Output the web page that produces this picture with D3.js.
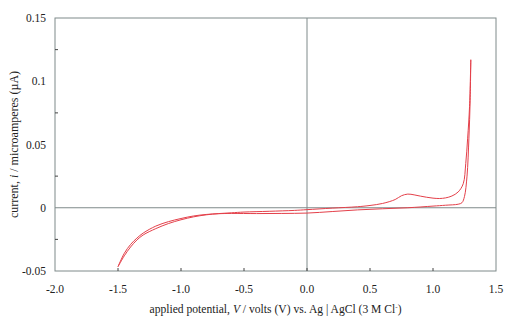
<html>
<head>
  <script src="https://d3js.org/d3.v7.min.js"></script>
  <style>
    body { margin: 0; background: #fff; }
    text { font-family: "Liberation Serif", "Times New Roman", serif; fill: #222; }
  </style>
</head>
<body>
<script>
  // forward scan (-1.5 -> 1.3 V), potential / current (uA)
  var fwdV = [-1.5, -1.45, -1.4, -1.35, -1.3, -1.2, -1.1, -1.0, -0.9, -0.8, -0.7, -0.6, -0.5, -0.3, -0.1, 0.0,
              0.2, 0.4, 0.5, 0.6, 0.7, 0.75, 0.8, 0.85, 0.9, 0.95, 1.0, 1.05, 1.1, 1.15, 1.2, 1.24, 1.26, 1.275, 1.29, 1.3];
  var fwdI = [-0.0466, -0.038, -0.031, -0.0255, -0.0215, -0.0165, -0.0125, -0.0095, -0.0072, -0.0056, -0.0046, -0.0040, -0.0034, -0.0028, -0.0021, -0.0015,
              -0.0003, 0.0008, 0.0018, 0.0034, 0.0065, 0.0095, 0.0108, 0.0102, 0.0092, 0.0083, 0.0076, 0.0073, 0.0078, 0.0093, 0.0125, 0.019, 0.035, 0.055, 0.08, 0.117];
  // reverse scan (1.3 -> -1.5 V)
  var revV = [1.3, 1.295, 1.285, 1.27, 1.25, 1.23, 1.2, 1.1, 1.0, 0.8, 0.6, 0.4, 0.2, 0.0, -0.2, -0.4, -0.6, -0.7,
              -0.8, -0.9, -1.0, -1.1, -1.2, -1.3, -1.35, -1.4, -1.45, -1.5];
  var revI = [0.117, 0.085, 0.055, 0.025, 0.009, 0.0040, 0.0028, 0.0020, 0.0013, 0.0000, -0.0008, -0.0017, -0.0030, -0.0042, -0.0045, -0.0046, -0.0045, -0.0047,
              -0.0053, -0.0065, -0.0085, -0.0110, -0.0145, -0.0200, -0.0240, -0.0290, -0.0360, -0.0466];

  var xTicks = [-2.0, -1.5, -1.0, -0.5, 0.0, 0.5, 1.0, 1.5];
  var yTicks = [-0.05, 0, 0.05, 0.1, 0.15];
  var yMinor = [-0.025, 0.025, 0.075, 0.125];

  var width = 522, height = 321;
  var pLeft = 55, pRight = 496, pTop = 18, pBottom = 271;
  var axisColor = '#7f8a8a';

  var x = d3.scaleLinear().domain([-2, 1.5]).range([pLeft, pRight]);
  var y = d3.scaleLinear().domain([-0.05, 0.15]).range([pBottom, pTop]);

  var svg = d3.select('body').append('svg')
    .attr('width', width)
    .attr('height', height);

  // plot box
  svg.append('rect')
    .attr('x', pLeft).attr('y', pTop)
    .attr('width', pRight - pLeft).attr('height', pBottom - pTop)
    .attr('fill', 'none')
    .attr('stroke', axisColor)
    .attr('stroke-width', 1);

  // zero lines
  svg.append('line')
    .attr('x1', pLeft).attr('x2', pRight)
    .attr('y1', y(0)).attr('y2', y(0))
    .attr('stroke', axisColor);
  svg.append('line')
    .attr('x1', x(0)).attr('x2', x(0))
    .attr('y1', pTop).attr('y2', pBottom)
    .attr('stroke', axisColor);

  // x ticks (inside, pointing up)
  svg.selectAll('.xt').data(xTicks.slice(1, -1)).enter().append('line')
    .attr('x1', function(d) { return x(d); })
    .attr('x2', function(d) { return x(d); })
    .attr('y1', pBottom).attr('y2', pBottom - 3)
    .attr('stroke', '#444');
  svg.selectAll('.xl').data(xTicks).enter().append('text')
    .attr('x', function(d) { return x(d); })
    .attr('y', 293)
    .attr('text-anchor', 'middle')
    .attr('font-size', 11.5)
    .text(function(d) { return d.toFixed(1); });

  // y ticks (minor, inside)
  svg.selectAll('.yt').data(yMinor).enter().append('line')
    .attr('x1', pLeft).attr('x2', pLeft + 3)
    .attr('y1', function(d) { return y(d); })
    .attr('y2', function(d) { return y(d); })
    .attr('stroke', '#444');
  svg.selectAll('.yl').data(yTicks).enter().append('text')
    .attr('x', 46)
    .attr('y', function(d) { return y(d) + 4; })
    .attr('text-anchor', 'end')
    .attr('font-size', 11.5)
    .text(function(d) { return d; });

  // axis titles
  var xt = svg.append('text')
    .attr('x', (pLeft + pRight) / 2)
    .attr('y', 313)
    .attr('text-anchor', 'middle')
    .attr('font-size', 11.6);
  xt.append('tspan').text('applied potential, ');
  xt.append('tspan').attr('font-style', 'italic').text('V');
  xt.append('tspan').text(' / volts (V) vs. Ag | AgCl (3 M Cl');
  xt.append('tspan').attr('dy', -4).attr('font-size', 7).text('-');
  xt.append('tspan').attr('dy', 4).text(')');

  var yt = svg.append('text')
    .attr('transform', 'translate(18,' + ((pTop + pBottom) / 2) + ') rotate(-90)')
    .attr('text-anchor', 'middle')
    .attr('font-size', 12);
  yt.append('tspan').text('current, ');
  yt.append('tspan').attr('font-style', 'italic').text('i');
  yt.append('tspan').text(' / microamperes (\u00b5A)');

  // curve
  var line = d3.line()
    .x(function(d) { return x(d[0]); })
    .y(function(d) { return y(d[1]); })
    .curve(d3.curveCatmullRom);

  var fwd = fwdV.map(function(v, i) { return [v, fwdI[i]]; });
  var rev = revV.map(function(v, i) { return [v, revI[i]]; });

  [fwd, rev].forEach(function(pts) {
    svg.append('path')
      .attr('d', line(pts))
      .attr('fill', 'none')
      .attr('stroke', '#e4404a')
      .attr('stroke-width', 1);
  });
</script>
</body>
</html>
